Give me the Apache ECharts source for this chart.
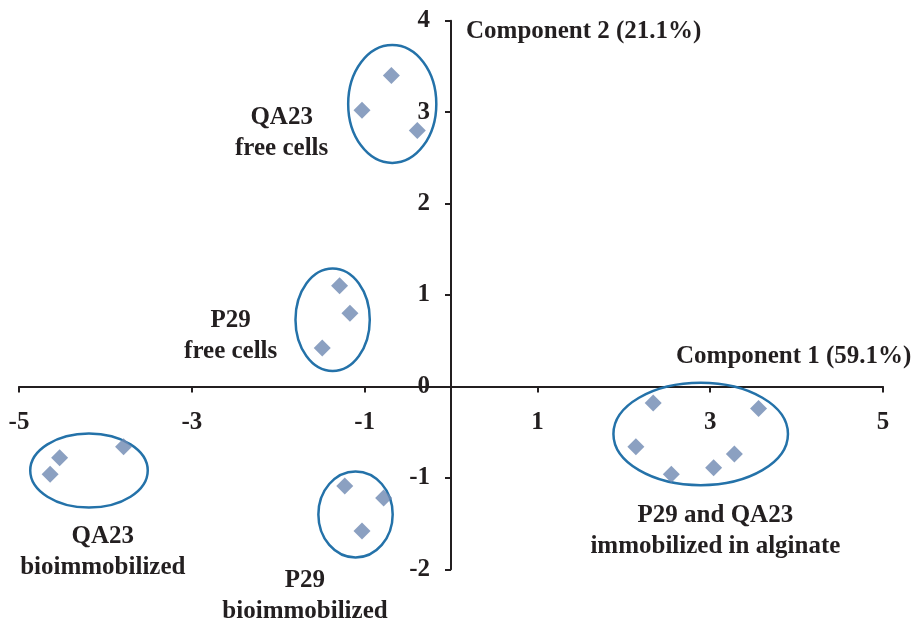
<!DOCTYPE html>
<html>
<head>
<meta charset="utf-8">
<script src="https://cdn.jsdelivr.net/npm/echarts@6/dist/echarts.min.js"></script>
<style>
  html, body { margin: 0; padding: 0; background: #fff; }
  #chart { width: 919px; height: 621px; }
</style>
</head>
<body>
<div id="chart"></div>
<script>
// PCA scores (Component 1, Component 2) per group
const qa23Free = [[-0.69, 3.40], [-1.03, 3.02], [-0.39, 2.80]];
const p29Free = [[-1.29, 1.10], [-1.17, 0.80], [-1.49, 0.42]];
const qa23Bio = [[-4.53, -0.78], [-4.64, -0.96], [-3.79, -0.66]];
const p29Bio = [[-1.23, -1.09], [-0.78, -1.22], [-1.03, -1.58]];
const alginate = [[2.34, -0.18], [3.56, -0.24], [2.14, -0.66], [2.55, -0.96], [3.04, -0.89], [3.28, -0.74]];

// group ellipses: [centre x, centre y, radius x, radius y] in axis units
const groupEllipses = [
  [-0.68, 3.09, 0.51, 0.645],
  [-1.37, 0.73, 0.43, 0.56],
  [-4.19, -0.92, 0.68, 0.405],
  [-1.105, -1.40, 0.43, 0.47],
  [2.89, -0.52, 1.01, 0.56]
];

// group captions: [x, y, text]
const groupLabels = [
  [-1.96, 2.77, 'QA23\nfree cells'],
  [-2.55, 0.55, 'P29\nfree cells'],
  [-4.03, -1.81, 'QA23\nbioimmobilized'],
  [-1.69, -2.29, 'P29\nbioimmobilized'],
  [3.06, -1.58, 'P29 and QA23\nimmobilized in alginate']
];

const xAxisName = 'Component 1 (59.1%)';
const yAxisName = 'Component 2 (21.1%)';

const xMin = -5, xMax = 5, yMin = -2, yMax = 4;

const allPoints = [].concat(qa23Free, p29Free, qa23Bio, p29Bio, alginate);

const FONT = '"Liberation Serif", "Times New Roman", serif';
const INK = '#231F20';

const W = 919, H = 621;
const grid = { left: 19, right: 36, top: 20.7, bottom: 51.7 };
// the axes cross at 0, so shift each axis in from the grid edge to the zero line
const gridW = W - grid.left - grid.right;
const gridH = H - grid.top - grid.bottom;
const yAxisShift = -gridW * (0 - xMin) / (xMax - xMin);
const xAxisShift = -gridH * (0 - yMin) / (yMax - yMin);

let chart = echarts.init(document.getElementById('chart'));
let option = {
  animation: false,
  grid: Object.assign({ outerBoundsMode: 'none', containLabel: false }, grid),
  xAxis: {
    type: 'value',
    position: 'bottom',
    offset: xAxisShift,
    min: xMin,
    max: xMax,
    interval: 2,
    splitLine: { show: false },
    axisLine: { onZero: false, lineStyle: { color: INK, width: 2 } },
    axisTick: { show: true, length: 6, lineStyle: { color: INK, width: 2 } },
    axisLabel: {
      margin: 24,
      color: INK,
      fontFamily: FONT,
      fontWeight: 'bold',
      fontSize: 25,
      hideOverlap: false
    }
  },
  yAxis: {
    type: 'value',
    position: 'left',
    offset: yAxisShift,
    min: yMin,
    max: yMax,
    interval: 1,
    splitLine: { show: false },
    axisLine: { onZero: false, lineStyle: { color: INK, width: 2 } },
    axisTick: { show: true, length: 6, lineStyle: { color: INK, width: 2 } },
    axisLabel: {
      margin: 21,
      color: INK,
      fontFamily: FONT,
      fontWeight: 'bold',
      fontSize: 25,
      hideOverlap: false
    }
  },
  series: [
    {
      type: 'custom',
      clip: false,
      z: 2,
      data: groupEllipses,
      renderItem: function (params, api) {
        let c = api.coord([api.value(0), api.value(1)]);
        let s = api.size([api.value(2), api.value(3)]);
        return {
          type: 'ellipse',
          shape: { cx: c[0], cy: c[1], rx: s[0], ry: s[1] },
          style: { fill: 'none', stroke: '#2472A9', lineWidth: 2.5 }
        };
      }
    },
    {
      type: 'scatter',
      z: 3,
      symbol: 'diamond',
      symbolSize: [17, 17],
      itemStyle: { color: '#6E88B2' },
      data: allPoints
    },
    {
      type: 'custom',
      clip: false,
      z: 4,
      data: groupLabels,
      renderItem: function (params, api) {
        let c = api.coord([api.value(0), api.value(1)]);
        return {
          type: 'text',
          style: {
            text: groupLabels[params.dataIndex][2],
            x: c[0],
            y: c[1],
            align: 'center',
            verticalAlign: 'middle',
            lineHeight: 31,
            font: 'bold 25px ' + FONT,
            fill: INK
          }
        };
      }
    }
  ],
  graphic: [
    {
      type: 'text',
      left: 466,
      top: 19,
      style: { text: yAxisName, font: 'bold 25px ' + FONT, fill: INK }
    },
    {
      type: 'text',
      left: 676,
      top: 344,
      style: { text: xAxisName, font: 'bold 25px ' + FONT, fill: INK }
    }
  ]
};
chart.setOption(option);
</script>
</body>
</html>
